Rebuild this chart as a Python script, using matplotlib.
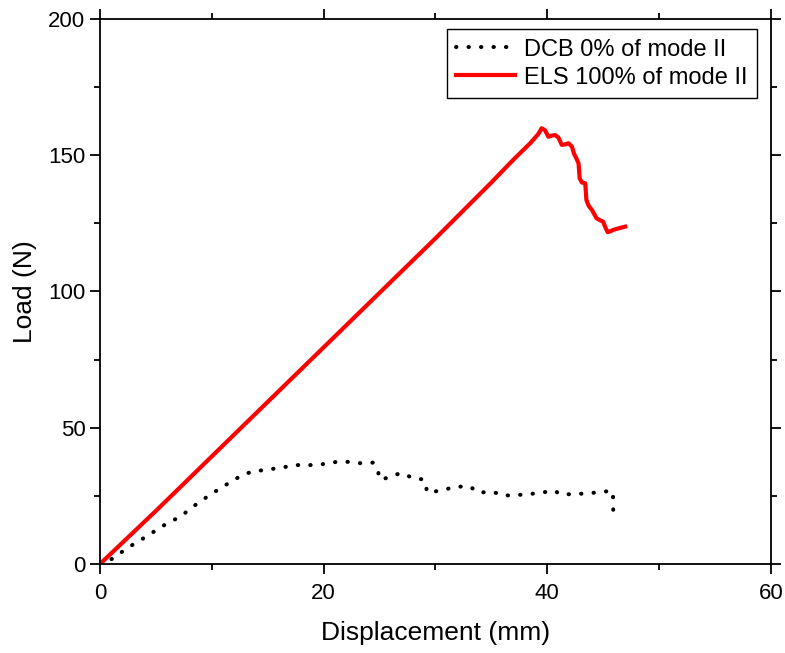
import matplotlib
matplotlib.use('Agg')
import matplotlib.pyplot as plt
from matplotlib.ticker import MultipleLocator

plt.rcParams['font.family'] = ['Liberation Sans', 'DejaVu Sans']

# DCB 0% of mode II (dotted black)
dcb_x = [0.0, 0.15, 1.2, 2.4, 3.4, 4.6, 6.0, 7.2, 8.3, 9.8, 11.0, 12.2, 13.1, 14.6,
         15.8, 17.6, 19.4, 21.2, 22.1, 23.3, 24.4, 24.9, 24.9, 25.5, 26.1, 26.5,
         27.1, 28.0, 28.8, 29.2, 29.2, 29.8, 30.7, 31.9, 33.1, 33.5, 33.8, 35.0,
         35.6, 36.1, 37.3, 38.5, 40.0, 40.7, 41.1, 42.3, 43.5, 44.6, 45.8, 45.9,
         45.9, 45.9]
dcb_y = [0.0, 0.3, 2.1, 5.8, 8.2, 11.3, 14.9, 17.4, 21.0, 25.3, 28.4, 31.4, 33.3, 34.5,
         35.1, 36.3, 36.3, 37.5, 37.5, 37.0, 37.2, 33.9, 31.4, 31.4, 32.3, 32.9,
         33.3, 31.4, 31.1, 29.4, 26.5, 26.5, 27.2, 28.4, 28.4, 27.2, 26.2, 26.5,
         25.9, 25.1, 25.3, 25.7, 26.5, 26.9, 25.6, 25.6, 25.9, 26.3, 26.9, 24.1,
         21.2, 18.3]

# ELS 100% of mode II (solid red)
els_x = [0.0, 5.0, 10.0, 15.0, 20.0, 25.0, 30.0, 35.0, 37.0, 38.5, 39.2, 39.5,
         39.8, 40.1, 40.4, 40.7, 41.0, 41.3, 41.6, 41.9, 42.2, 42.4, 42.6, 42.8,
         42.9, 43.1, 43.4, 43.5, 43.7, 44.0, 44.4, 44.7, 45.0, 45.2, 45.4, 45.6,
         45.9, 46.4, 46.96]
els_y = [0.0, 19.5, 39.5, 59.5, 79.5, 99.5, 119.5, 140.0, 148.5, 154.5, 157.8, 159.9,
         159.2, 156.8, 157.2, 157.4, 156.5, 153.8, 154.0, 154.4, 153.2, 150.5, 148.9, 147.0,
         141.5, 140.0, 139.7, 133.6, 131.5, 129.9, 126.9, 126.2, 125.6, 123.5, 121.8, 122.0,
         122.6, 123.2, 123.8]

fig = plt.figure(figsize=(7.85, 6.53), dpi=100)
ax = fig.add_axes([0.1274, 0.1363, 0.8546, 0.8346])

ax.plot(dcb_x, dcb_y, color='black', linestyle=(0, (0.1, 3.0)), linewidth=2.9,
        dash_capstyle='round', label='DCB 0% of mode II')
ax.plot(els_x, els_y, color='red', linewidth=3.0, solid_joinstyle='round',
        label='ELS 100% of mode II')

ax.set_xlim(0, 60)
ax.set_ylim(0, 200)
ax.xaxis.set_major_locator(MultipleLocator(20))
ax.xaxis.set_minor_locator(MultipleLocator(10))
ax.yaxis.set_major_locator(MultipleLocator(50))
ax.yaxis.set_minor_locator(MultipleLocator(25))
ax.tick_params(which='both', direction='out', top=True, right=True,
               labeltop=False, labelright=False, width=1.3)
ax.tick_params(which='major', length=7, labelsize=16)
ax.tick_params(axis='x', which='major', pad=7)
ax.tick_params(which='minor', length=4)
for s in ax.spines.values():
    s.set_linewidth(1.3)

ax.set_xlabel('Displacement (mm)', fontsize=19, labelpad=12)
ax.set_ylabel('Load (N)', fontsize=19, labelpad=8)

leg = ax.legend(loc='upper right', fontsize=17, fancybox=False, edgecolor='black',
                framealpha=1, handlelength=2.5, handletextpad=0.4, borderpad=0.4,
                labelspacing=0.25, borderaxespad=0.2,
                bbox_to_anchor=(0.987, 0.99))
leg.get_frame().set_linewidth(1.0)

plt.savefig('out.png', dpi=100)
plt.close()
